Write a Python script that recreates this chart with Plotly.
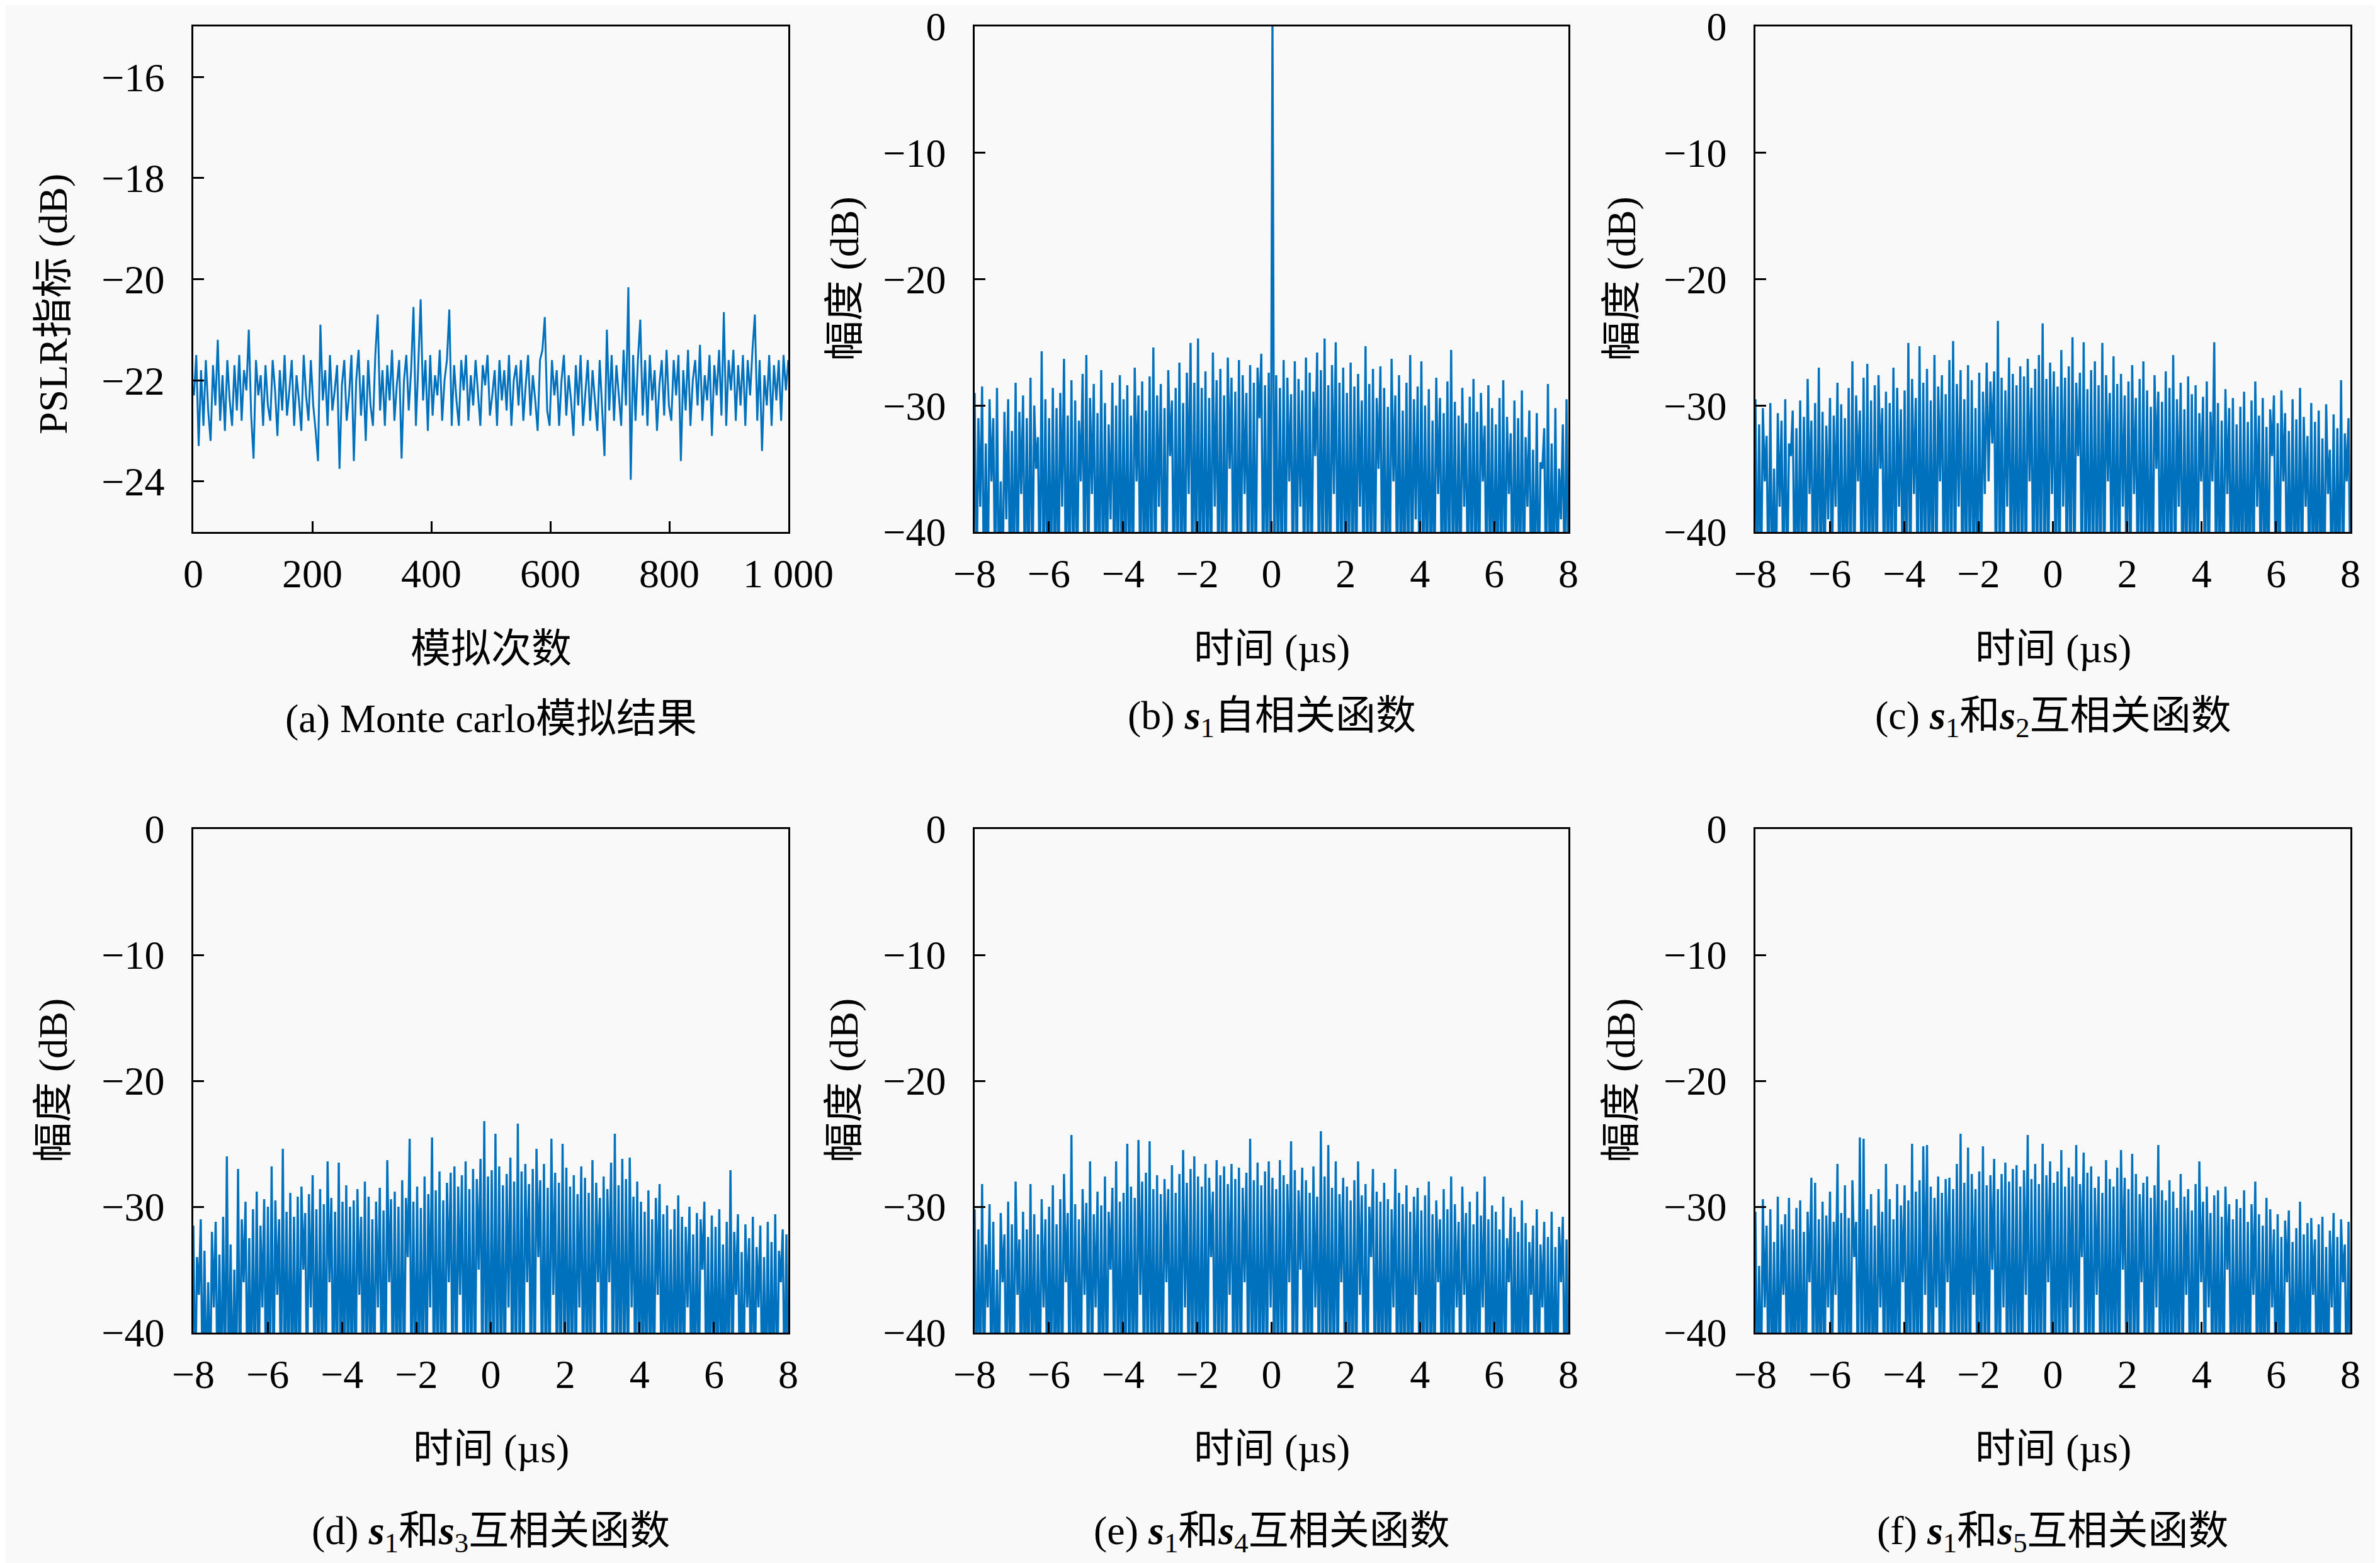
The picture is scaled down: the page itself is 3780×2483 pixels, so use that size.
import numpy as np
import plotly.graph_objects as go

# (a) Monte Carlo PSLR per run (dB), sampled every ~4 runs
pslr_db = [
    -22.3, -21.5, -23.3, -21.8, -22.9, -21.6, -22.6, -23.2, -21.7, -22.5,
    -21.2, -22.8, -21.9, -23.0, -21.6, -22.4, -22.9, -21.7, -22.6, -21.5,
    -22.8, -21.8, -22.2, -21.0, -22.7, -23.55, -21.6, -22.3, -21.9, -22.9,
    -21.7, -22.5, -22.8, -21.6, -22.2, -23.1, -21.8, -22.6, -21.5, -22.7,
    -22.2, -21.6, -22.9, -21.9, -22.4, -23.0, -21.5, -22.3, -22.8, -21.6,
    -22.5, -23.0, -23.6, -20.9, -22.4, -21.8, -22.9, -21.5, -22.6, -22.2,
    -21.7, -23.75, -22.1, -21.6, -22.8, -22.3, -21.5, -23.6, -22.0, -21.4,
    -22.7, -21.9, -23.2, -21.6, -22.5, -22.9, -21.5, -20.7, -22.6, -21.8,
    -22.9, -21.7, -22.4, -21.4, -22.8, -22.1, -21.6, -23.55, -22.0, -21.5,
    -22.6, -21.8, -20.55, -22.9, -21.7, -20.4, -22.4, -21.6, -23.0, -21.5,
    -22.7, -21.9, -22.3, -21.4, -22.8, -22.0, -21.6, -20.6, -22.9, -21.7,
    -22.4, -22.9, -21.6, -22.2, -21.5, -22.8, -21.9, -22.5, -21.6, -22.3,
    -22.9, -21.7, -22.1, -21.5, -22.7, -22.3, -21.8, -22.9, -21.6, -22.4,
    -21.8, -22.6, -21.5, -22.9, -22.0, -21.7, -22.5, -21.6, -22.8, -22.1,
    -21.5, -22.7, -21.9, -22.4, -23.0, -21.6, -21.4, -20.75, -22.6, -22.9,
    -21.6, -22.3, -21.8, -22.9, -22.0, -21.5, -22.7, -21.9, -22.4, -23.1,
    -21.7, -22.5, -21.5, -22.9, -22.2, -21.6, -22.8, -21.8, -22.4, -23.0,
    -21.6, -22.5, -23.5, -21.0, -22.6, -21.5, -22.8, -21.7, -22.3, -22.9,
    -21.4, -22.5, -20.16, -23.97, -21.5, -22.8, -21.6, -20.8, -22.7, -21.6,
    -22.9, -21.5, -22.4, -21.8, -23.0, -22.1, -21.6, -22.7, -21.4, -22.5,
    -22.8, -21.6, -22.3, -21.5, -23.6, -21.8, -22.6, -21.4, -22.9, -22.0,
    -21.6, -22.5, -21.3, -22.8, -21.9, -22.4, -21.5, -23.1, -21.7, -22.3,
    -21.4, -22.7, -20.65, -22.9, -21.6, -22.2, -21.4, -22.8, -21.7, -22.5,
    -21.5, -22.9, -21.6, -22.3, -21.4, -20.7, -22.8, -21.6, -23.4, -21.9,
    -22.5, -21.5, -22.9, -21.7, -22.4, -21.6, -22.8, -21.5, -22.2, -21.6,
]

# (b)-(f) correlation magnitude (dB): local maxima and the minima between them
s1_auto_peaks = [
    -29, -31, -28.5, -33, -29.5, -31, -28.6, -36, -30.5, -29.5,
    -32, -28.2, -30.5, -29.2, -31, -27.8, -30, -32.5, -25.7, -29.5,
    -31, -28.6, -30.2, -29, -26.3, -30.8, -28, -29.6, -31.2, -27.5,
    -26, -29.4, -28.3, -30.6, -27.2, -29.8, -31.5, -28.2, -30, -27.6,
    -29.5, -28.4, -30.8, -27, -29.2, -28.1, -30.4, -27.7, -25.4, -29.2,
    -28.3, -30.2, -27.2, -29.6, -28.6, -26.6, -29.8, -27.4, -25.05, -28.2,
    -24.7, -28.6, -27.3, -29.4, -25.8, -28, -27.1, -29.2, -26.2, -27.8,
    -28.9, -26.4, -27.6, -29, -26.8, -28.2, -27, -25.9, -28.4, -27.4,
    0, -27.6, -28.6, -26.4, -27.8, -29.1, -26.5, -27.9, -28.8, -26.2,
    -27.4, -28.9, -25.8, -27.2, -24.7, -28.4, -26.8, -25, -28.2, -27,
    -29, -26.6, -28.5, -27.5, -29.6, -25.3, -28.3, -27.1, -29.4, -26.9,
    -28.6, -30.1, -26.3, -29.2, -27.6, -30.4, -28.2, -26, -29.5, -28.5,
    -26.5, -30, -28.7, -31.2, -27.8, -29.4, -30.6, -28.1, -25.6, -29.7,
    -30.8, -28.6, -31.4, -29.3, -27.9, -30.5, -29, -31.6, -28.4, -30.2,
    -31.5, -29.4, -28, -30.9, -32.2, -29.6, -31, -28.8, -32.5, -30.4,
    -33.5, -30.6, -34.5, -31.8, -28.3, -33, -30.2, -35, -31.5, -29.5,
]
s1_auto_troughs = [
    -45, -38, -45, -45, -36, -45, -45, -45, -39, -45,
    -45, -45, -37, -45, -45, -45, -35, -45, -45, -45,
    -45, -45, -45, -38, -45, -45, -45, -45, -36, -45,
    -45, -37, -45, -45, -45, -45, -39, -45, -45, -45,
    -45, -45, -45, -36, -45, -45, -45, -45, -45, -38,
    -45, -45, -34, -45, -45, -45, -45, -37, -45, -45,
    -45, -45, -45, -45, -38, -45, -45, -45, -35, -45,
    -45, -45, -37, -45, -45, -45, -31, -45, -45, -45,
    -45, -45, -45, -45, -36, -45, -45, -38, -45, -45,
    -45, -34, -45, -45, -45, -45, -37, -45, -45, -45,
    -45, -45, -45, -38, -45, -45, -45, -45, -35, -45,
    -45, -45, -36, -45, -45, -45, -45, -45, -39, -45,
    -45, -45, -45, -45, -37, -45, -45, -45, -45, -45,
    -45, -38, -45, -45, -45, -45, -36, -45, -45, -45,
    -45, -45, -45, -37, -45, -45, -45, -45, -38, -45,
    -45, -45, -35, -45, -45, -45, -45, -39, -45, -45,
]

s1s2_peaks = [
    -29.5, -31.5, -30.2, -32.4, -29.8, -35, -30.6, -31.2, -29.5, -33,
    -30.4, -31.8, -29.6, -30.9, -27.9, -31.2, -29.8, -27, -30.5, -31.6,
    -29.4, -30.8, -28.2, -29.9, -31, -28.6, -26.5, -29.2, -30.4, -27.8,
    -26.7, -29.6, -28.4, -27.6, -30.2, -28.9, -29.8, -27, -28.6, -30.3,
    -28.8, -25.05, -27.9, -29.4, -25.3, -28.2, -27.1, -29.6, -26, -28.5,
    -27.6, -29.1, -26.4, -24.9, -28.3, -27.2, -29.5, -26.8, -28, -30.2,
    -27.4, -28.9, -26.6, -28.1, -27.3, -23.3, -27.8, -28.8, -26.2, -27.5,
    -28.4, -26.9, -27.7, -26.3, -28.6, -27.1, -26, -23.5, -27.9, -26.6,
    -27.3, -28.5, -25.6, -27.8, -26.9, -24.6, -28.2, -27.4, -25, -28.7,
    -27.2, -26.5, -28.4, -25.05, -27.6, -29, -26.1, -28.3, -27.5, -29.2,
    -28.1, -26.8, -29.4, -27.9, -26.5, -28.8, -30.1, -27.6, -28.9, -29.7,
    -27.3, -28.6, -26, -29.5, -28.2, -30.3, -27.7, -29.1, -28.4, -30.6,
    -29.3, -28.1, -30.5, -25, -29.8, -31.2, -28.7, -30.2, -29.4, -31.5,
    -30.1, -28.9, -31.3, -29.6, -28.1, -30.8, -29.4, -31.7, -30.3, -29.2,
    -31.4, -28.8, -30.6, -32, -29.5, -31.1, -28.6, -30.9, -32.4, -29.8,
    -31.3, -30.4, -32.6, -29.9, -33.5, -30.7, -31.8, -28, -32.2, -31,
]
s1s2_troughs = [
    -45, -45, -36, -45, -45, -45, -38, -45, -45, -34,
    -45, -45, -45, -45, -37, -45, -45, -45, -45, -39,
    -45, -38, -45, -45, -45, -45, -45, -36, -45, -45,
    -45, -45, -45, -35, -45, -45, -45, -45, -38, -45,
    -45, -45, -37, -45, -45, -45, -45, -45, -45, -36,
    -45, -45, -45, -45, -38, -45, -45, -45, -45, -45,
    -45, -37, -36, -33, -45, -45, -45, -38, -45, -45,
    -45, -45, -45, -36, -45, -45, -45, -45, -45, -37,
    -45, -45, -38, -45, -45, -45, -34, -45, -45, -45,
    -45, -45, -45, -45, -36, -45, -45, -45, -38, -45,
    -45, -37, -45, -45, -45, -45, -45, -35, -45, -45,
    -45, -45, -45, -38, -45, -45, -45, -45, -45, -36,
    -45, -45, -36, -45, -45, -45, -37, -45, -45, -45,
    -45, -45, -45, -45, -38, -45, -45, -45, -34, -45,
    -45, -36, -45, -45, -45, -45, -45, -38, -45, -45,
    -45, -45, -45, -37, -45, -45, -45, -45, -36, -45,
]

s1s3_peaks = [
    -31.5, -34, -31, -33.5, -36, -32, -31.2, -33.8, -30.8, -26,
    -33, -35, -27, -31, -29.6, -32.5, -30.2, -28.8, -31.5, -29.4,
    -30, -26.8, -29.5, -31, -25.4, -30.4, -28.9, -30.8, -29.2, -28.4,
    -30.5, -29, -27.5, -30.2, -28.6, -29.8, -26.4, -29.3, -30.4, -26.5,
    -29.6, -28.3, -30, -29.5, -28.6, -30.8, -28, -29.2, -31, -29.6,
    -28.5, -30.3, -26.3, -29.4, -28.8, -30, -27.9, -29.3, -24.6, -29.6,
    -28.4, -30.1, -27.6, -29, -24.5, -28.7, -27.2, -29.5, -28.1, -27.3,
    -26.8, -28.4, -27.5, -26.4, -28.6, -27, -27.8, -26.2, -23.2, -27.6,
    -27.1, -24.2, -26.8, -28.3, -27.4, -26.1, -28, -23.4, -27.2, -26.6,
    -28.2, -27, -25.4, -27.9, -26.6, -28.5, -24.6, -27.3, -28.1, -25,
    -26.9, -28.4, -27.5, -29, -26.8, -27.7, -28.9, -26.3, -28.1, -29.3,
    -27.6, -28.6, -26.5, -24.2, -28.3, -26.2, -27.8, -26.1, -29.2, -28,
    -29.6, -30.4, -28.7, -31, -29.3, -28.2, -30.6, -29.9, -31.8, -30.2,
    -29.1, -30.8, -31.6, -30, -32.2, -30.5, -31, -29.6, -32.4, -30.7,
    -31.6, -30.2, -33, -31.2, -27.1, -32, -30.6, -33.6, -31.4, -32.5,
    -30.8, -33.2, -31.5, -34, -31.2, -32.8, -30.6, -33.5, -31.8, -32.2,
]
s1s3_troughs = [
    -45, -37, -45, -45, -45, -38, -45, -45, -45, -45,
    -45, -45, -45, -36, -45, -45, -45, -45, -38, -45,
    -45, -45, -37, -45, -45, -45, -45, -45, -45, -35,
    -45, -38, -45, -45, -45, -45, -36, -45, -45, -45,
    -45, -45, -45, -45, -37, -45, -45, -45, -45, -38,
    -45, -45, -36, -45, -45, -45, -45, -34, -45, -45,
    -45, -45, -45, -38, -45, -45, -45, -45, -36, -45,
    -45, -37, -45, -45, -45, -45, -35, -45, -45, -45,
    -45, -45, -45, -45, -38, -45, -45, -45, -45, -36,
    -45, -45, -34, -45, -45, -45, -37, -45, -45, -45,
    -45, -45, -45, -38, -45, -45, -45, -45, -36, -45,
    -45, -36, -45, -45, -45, -45, -45, -38, -45, -45,
    -45, -45, -45, -45, -37, -45, -45, -45, -45, -45,
    -45, -45, -38, -45, -45, -45, -35, -45, -45, -45,
    -45, -45, -45, -45, -45, -37, -45, -45, -38, -45,
    -45, -38, -45, -45, -45, -45, -45, -36, -45, -45,
]

s1s4_peaks = [
    -30.2, -31.8, -28.2, -33, -29.8, -31.2, -35, -30.5, -32.2, -29.6,
    -31.4, -28, -32.6, -30.4, -31.8, -28.2, -30.6, -32.2, -29.4, -31,
    -30, -28.3, -31.4, -29.4, -27.4, -30.5, -24.3, -29.8, -31, -28.6,
    -29.7, -26.4, -30.6, -28.8, -29.9, -27.6, -30.4, -28.5, -26.4, -29.6,
    -28.9, -25, -28.4, -29.3, -24.7, -28, -27.3, -24.8, -28.6, -27.5,
    -29, -27.8, -28.6, -26.7, -28.9, -27.4, -25.5, -28.1, -27, -26,
    -27.6, -28.4, -26.6, -27.7, -28.8, -26.3, -27.5, -26.8, -28.2, -26.6,
    -27.8, -26.9, -28.5, -27.3, -24.6, -27.9, -26.5, -28.3, -27.2, -26.4,
    -27.7, -28.6, -26.3, -27.5, -28.2, -24.8, -27.1, -28.7, -26.9, -27.9,
    -28.9, -26.8, -29.2, -24, -27.6, -25.1, -28.5, -26.4, -29, -27.7,
    -28.4, -29.5, -27.9, -26.4, -29.1, -28.2, -30, -27, -28.8, -29.6,
    -28.1, -29.4, -30.2, -27, -28.9, -29.8, -28.3, -30.4, -29.2, -28.5,
    -30.3, -29.1, -28, -30.6, -29.5, -31, -28.6, -30.2, -27.6, -29.8,
    -31.2, -28.4, -30.5, -29.6, -31.4, -28.8, -30.7, -27.6, -31, -29.9,
    -30.4, -31.8, -29.2, -32.5, -30.1, -30.8, -32, -29.5, -31.3, -32.8,
    -31.5, -30.2, -33, -31.2, -32.4, -30.4, -33.2, -31.6, -30.8, -32.6,
]
s1s4_troughs = [
    -45, -45, -45, -38, -45, -45, -45, -36, -45, -45,
    -45, -37, -45, -45, -45, -45, -45, -45, -38, -45,
    -45, -45, -45, -45, -36, -45, -45, -45, -45, -37,
    -45, -45, -38, -45, -45, -45, -35, -45, -45, -45,
    -45, -45, -45, -45, -37, -45, -45, -45, -45, -45,
    -45, -36, -45, -45, -45, -45, -38, -45, -45, -45,
    -45, -45, -45, -34, -45, -45, -45, -45, -37, -45,
    -45, -45, -36, -45, -45, -45, -45, -45, -45, -38,
    -45, -45, -45, -45, -36, -45, -45, -35, -45, -45,
    -45, -38, -45, -45, -45, -45, -45, -45, -36, -45,
    -45, -45, -45, -37, -45, -45, -34, -45, -45, -45,
    -45, -45, -38, -45, -45, -45, -45, -45, -37, -45,
    -45, -45, -45, -45, -36, -45, -45, -45, -45, -38,
    -45, -37, -45, -45, -45, -45, -38, -45, -45, -45,
    -45, -45, -45, -36, -45, -45, -45, -45, -45, -37,
    -45, -45, -38, -45, -45, -45, -45, -36, -45, -45,
]

s1s5_peaks = [
    -30.4, -34.7, -29.4, -31.5, -30.2, -32.8, -29.2, -31.4, -30.6, -29.3,
    -31.8, -30.1, -29.5, -32, -30.4, -27.7, -28.1, -31, -29.6, -30.7,
    -28.8, -31.2, -26.6, -30.5, -28.3, -30.9, -27.9, -31.2, -24.5, -24.6,
    -30.2, -29, -31.5, -28.6, -30.4, -26.6, -29.4, -31, -28.2, -29.9,
    -28.3, -29.5, -25, -28.8, -27.9, -25.2, -25.1, -28.4, -29.3, -27.6,
    -28.9, -27.8, -27.7, -28.6, -26.6, -24.2, -28.1, -25.3, -27.4, -28.6,
    -27.2, -25.2, -28.3, -27.5, -26.2, -28.6, -27.4, -26.5, -28, -27,
    -26.7, -28.4, -27.1, -24.3, -27.8, -26.6, -28.2, -25, -27.5, -26.4,
    -28.1, -27.2, -25.5, -28.4, -26.9, -27.6, -25.1, -28.2, -25.7, -27.3,
    -26.8, -28.5, -27.6, -28.9, -26.3, -27.8, -28.4, -26.9, -25.5, -27.7,
    -28.6, -25.8, -27.4, -29, -28.1, -27.6, -29.3, -28.3, -25.1, -28.7,
    -29.5, -27.9, -28.8, -30.1, -27.4, -29.2, -28.6, -30.3, -28.2, -26.4,
    -29.6, -28.4, -30.5, -29.1, -28.7, -30.8, -28.4, -29.8, -31, -29.4,
    -30.1, -28.7, -31.2, -29.8, -28, -30.6, -31.5, -29.3, -30.2, -31.8,
    -30.6, -32.4, -31.1, -30.3, -32.8, -31.7, -29.6, -32.2, -31.3, -30.9,
    -32.6, -31.4, -30.8, -33.2, -31.9, -30.5, -32.4, -31, -33, -31.2,
]
s1s5_troughs = [
    -45, -45, -38, -45, -45, -45, -45, -37, -45, -45,
    -45, -45, -45, -45, -36, -45, -45, -45, -45, -38,
    -45, -37, -45, -45, -45, -45, -34, -45, -45, -45,
    -45, -45, -45, -38, -45, -45, -45, -45, -45, -36,
    -45, -45, -45, -45, -45, -37, -45, -45, -38, -45,
    -45, -36, -45, -45, -45, -45, -45, -45, -37, -45,
    -45, -45, -45, -35, -45, -45, -38, -45, -45, -45,
    -45, -45, -37, -45, -45, -45, -45, -45, -36, -45,
    -45, -45, -45, -45, -38, -45, -45, -34, -45, -45,
    -45, -37, -45, -45, -45, -45, -45, -45, -35, -45,
    -45, -45, -45, -36, -45, -45, -45, -38, -45, -45,
    -45, -45, -45, -45, -45, -37, -45, -45, -45, -36,
    -45, -38, -45, -45, -45, -45, -35, -45, -45, -45,
    -45, -45, -45, -37, -45, -45, -45, -45, -38, -45,
    -45, -45, -36, -45, -45, -45, -45, -45, -45, -37,
    -45, -45, -45, -45, -38, -45, -45, -36, -45, -45,
]

corr_ticks = [-8, -6, -4, -2, 0, 2, 4, 6, 8]
corr_ticktext = ["\u22128", "\u22126", "\u22124", "\u22122", "0", "2", "4", "6", "8"]
db_ticks = [-40, -30, -20, -10, 0]
db_ticktext = ["\u221240", "\u221230", "\u221220", "\u221210", "0"]
runs_ticks = [0, 200, 400, 600, 800, 1000]
runs_ticktext = ["0", "200", "400", "600", "800", "1 000"]
pslr_ticks = [-24, -22, -20, -18, -16]
pslr_ticktext = ["\u221224", "\u221222", "\u221220", "\u221218", "\u221216"]

W, H = 3780, 2483
FONT = "Liberation Serif, Noto Sans CJK SC, serif"
BLUE = "#0072bd"
BG = "#f9f9f9"
FS = 64

# plot boxes in page pixels
col_px = [(299, 1244), (1540, 2483), (2780, 3725)]
row_px = [(34, 837), (1309, 2109)]


def interleave(peaks, troughs):
    return np.column_stack([peaks, troughs]).ravel()


S1 = "<b><i>s</i></b><sub>1</sub>"
panels = [
    dict(y=np.array(pslr_db), x=np.linspace(1, 1000, len(pslr_db)), kind="mc",
         cap="(a) Monte carlo模拟结果"),
    dict(y=interleave(s1_auto_peaks, s1_auto_troughs), kind="corr",
         cap=f"(b) {S1}自相关函数"),
    dict(y=interleave(s1s2_peaks, s1s2_troughs), kind="corr",
         cap=f"(c) {S1}和<b><i>s</i></b><sub>2</sub>互相关函数"),
    dict(y=interleave(s1s3_peaks, s1s3_troughs), kind="corr",
         cap=f"(d) {S1}和<b><i>s</i></b><sub>3</sub>互相关函数"),
    dict(y=interleave(s1s4_peaks, s1s4_troughs), kind="corr",
         cap=f"(e) {S1}和<b><i>s</i></b><sub>4</sub>互相关函数"),
    dict(y=interleave(s1s5_peaks, s1s5_troughs), kind="corr",
         cap=f"(f) {S1}和<b><i>s</i></b><sub>5</sub>互相关函数"),
]

fig = go.Figure()
layout = {}
annotations = []
ytitle_x = [77, 1333, 2567]

for i, p in enumerate(panels):
    r, c = divmod(i, 3)
    x0, x1 = col_px[c]
    y0, y1 = row_px[r]
    n = i + 1
    sfx = "" if n == 1 else str(n)
    x = p.get("x")
    if x is None:
        x = np.linspace(-8, 8, len(p["y"]))
    lw = 3.0 if p["kind"] == "mc" else 3.4
    fig.add_trace(go.Scatter(x=x, y=p["y"], mode="lines",
                             line=dict(color=BLUE, width=lw),
                             xaxis="x" + sfx, yaxis="y" + sfx, showlegend=False))

    common = dict(showline=True, linecolor="black", linewidth=2.5, mirror=True,
                  ticks="inside", ticklen=17, tickwidth=2.5, tickcolor="black",
                  showgrid=False, zeroline=False, fixedrange=True, automargin=False,
                  ticklabeloverflow="allow",
                  tickfont=dict(family=FONT, size=FS, color="black"))
    if p["kind"] == "mc":
        xa = dict(range=[0, 1000], tickvals=runs_ticks, ticktext=runs_ticktext)
        ya = dict(range=[-25, -15], tickvals=pslr_ticks, ticktext=pslr_ticktext)
        xtitle, ytitle, ytc = "模拟次数", "PSLR指标 (dB)", 475
    else:
        xa = dict(range=[-8, 8], tickvals=corr_ticks, ticktext=corr_ticktext)
        ya = dict(range=[-40, 0], tickvals=db_ticks, ticktext=db_ticktext)
        xtitle, ytitle, ytc = "时间 (µs)", "幅度 (dB)", (y0 + y1) / 2
    xa.update(common, domain=[x0 / W, x1 / W], anchor="y" + sfx, ticklabelstandoff=8)
    ya.update(common, domain=[1 - y1 / H, 1 - y0 / H], anchor="x" + sfx, ticklabelstandoff=30)
    layout["xaxis" + sfx] = xa
    layout["yaxis" + sfx] = ya

    xc = (x0 + x1) / 2 / W
    title_y = 1022 if r == 0 else 2293
    cap_y = 1133 if r == 0 else 2428
    txt = dict(family=FONT, size=FS, color="black")
    annotations.append(dict(text=xtitle, x=xc, y=1 - title_y / H, xref="paper", yref="paper",
                            showarrow=False, xanchor="center", yanchor="middle", font=txt))
    annotations.append(dict(text=p["cap"], x=xc, y=1 - cap_y / H, xref="paper", yref="paper",
                            showarrow=False, xanchor="center", yanchor="middle", font=txt))
    annotations.append(dict(text=ytitle, x=ytitle_x[c] / W, y=1 - ytc / H, xref="paper",
                            yref="paper", showarrow=False, textangle=-90,
                            xanchor="center", yanchor="middle", font=txt))

fig.update_layout(
    width=W, height=H,
    margin=dict(l=0, r=0, t=0, b=0, autoexpand=False),
    paper_bgcolor=BG, plot_bgcolor=BG,
    font=dict(family=FONT, size=FS, color="black"),
    annotations=annotations,
    showlegend=False,
    **layout,
)

fig.write_html("out.html")
